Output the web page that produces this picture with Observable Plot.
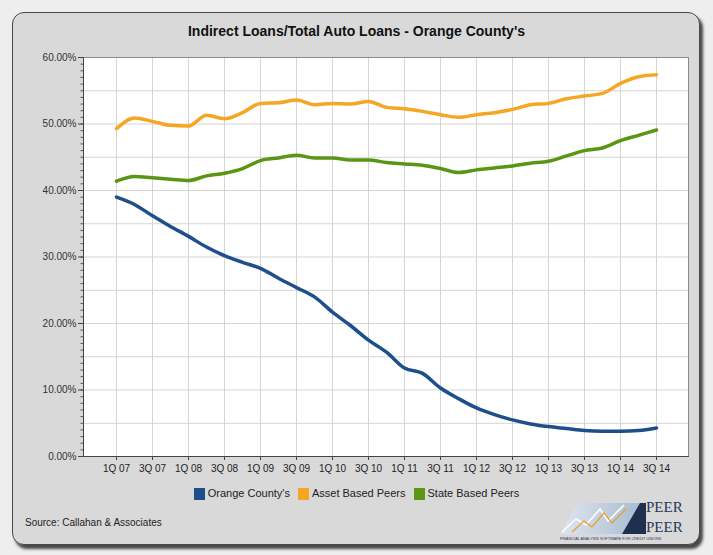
<!DOCTYPE html>
<html><head><meta charset="utf-8">
<script src="https://cdn.jsdelivr.net/npm/d3@7"></script>
<script src="https://cdn.jsdelivr.net/npm/@observablehq/plot@0.6"></script>
<style>
html,body{margin:0;padding:0;background:#eeeeee;width:713px;height:555px;overflow:hidden;font-family:"Liberation Sans",Arial,sans-serif;}
#panel{position:absolute;left:12px;top:12px;width:686px;height:531px;background:#d9d9d9;border:1px solid #4a4a4a;border-radius:12px;box-shadow:3px 4px 3px rgba(0,0,0,0.7);}
#title{position:absolute;left:0;top:23px;width:713px;text-align:center;font-weight:bold;font-size:14px;color:#111;}
#chart{position:absolute;left:0;top:0;}
#legend{position:absolute;top:486px;left:0;width:713px;text-align:center;font-size:11px;color:#222;white-space:nowrap;}
#legend span.item{display:inline-block;margin:0 4px;vertical-align:middle;}
#legend span.sw{display:inline-block;width:11px;height:12px;vertical-align:-3px;margin-right:3px;}
#source{position:absolute;left:25px;top:517px;font-size:10px;color:#222;}
#logo{position:absolute;left:558px;top:497px;}
</style></head>
<body>
<div id="panel"></div>
<div id="title">Indirect Loans/Total Auto Loans - Orange County's</div>
<div id="chart"></div>
<div id="legend"></div>
<div id="source">Source: Callahan &amp; Associates</div>
<svg id="logo" width="134" height="46" viewBox="0 0 134 46">
  <defs><linearGradient id="lg" x1="0" x2="1" y1="0" y2="0"><stop offset="0" stop-color="#dfe6ef"/><stop offset="1" stop-color="#a9bcd3"/></linearGradient></defs>
  <polygon points="2,37 20,6 82,6 64,37" fill="url(#lg)"/>
  <polygon points="64,37 82,6 88,6 88,37" fill="#1f2f4f"/>
  <polyline points="4,35 18,22 28,28 42,12 50,24 66,8" fill="none" stroke="#ffffff" stroke-width="1.5"/>
  <polyline points="14,35 26,24 34,30 46,16 54,26 68,12" fill="none" stroke="#e8a020" stroke-width="1.2"/>
  <text x="88" y="15" font-family="Liberation Serif,serif" font-size="15" fill="#26385a">PEER</text>
  <text x="82" y="23" font-family="Liberation Serif,serif" font-size="4.5" fill="#26385a">to</text>
  <text x="88" y="35" font-family="Liberation Serif,serif" font-size="15" fill="#26385a">PEER</text>
  <text x="2" y="43" font-family="Liberation Sans,sans-serif" font-size="3.8" fill="#26385a">FINANCIAL ANALYSIS SOFTWARE FOR CREDIT UNIONS</text>
</svg>
<script>
const quarters = ["1Q 07","2Q 07","3Q 07","4Q 07","1Q 08","2Q 08","3Q 08","4Q 08",
  "1Q 09","2Q 09","3Q 09","4Q 09","1Q 10","2Q 10","3Q 10","4Q 10",
  "1Q 11","2Q 11","3Q 11","4Q 11","1Q 12","2Q 12","3Q 12","4Q 12",
  "1Q 13","2Q 13","3Q 13","4Q 13","1Q 14","2Q 14","3Q 14"];
const tickLabels = ["1Q 07","3Q 07","1Q 08","3Q 08","1Q 09","3Q 09","1Q 10","3Q 10",
  "1Q 11","3Q 11","1Q 12","3Q 12","1Q 13","3Q 13","1Q 14","3Q 14"];
const seriesNames = ["Orange County's","Asset Based Peers","State Based Peers"];
const seriesColors = ["#1f4e8c","#f5a623","#5a9614"];
const orangeCounty = [39.0,37.9,36.2,34.6,33.1,31.5,30.2,29.2,28.3,26.8,25.4,24.0,21.7,19.7,17.5,15.7,
  13.3,12.5,10.3,8.7,7.3,6.3,5.5,4.9,4.5,4.2,3.9,3.8,3.8,3.9,4.3];
const assetPeers = [49.3,50.9,50.4,49.8,49.7,51.3,50.8,51.7,53.1,53.2,53.6,52.9,53.1,53.0,53.4,52.5,
  52.3,51.9,51.4,51.0,51.4,51.7,52.2,52.9,53.1,53.8,54.2,54.6,56.1,57.1,57.4];
const statePeers = [41.4,42.1,41.9,41.7,41.5,42.2,42.6,43.3,44.5,44.9,45.3,44.9,44.9,44.6,44.6,44.2,
  44.0,43.8,43.3,42.7,43.1,43.4,43.7,44.1,44.4,45.2,46.0,46.4,47.5,48.3,49.1];
const yTickValues = [0,10,20,30,40,50,60];

const seriesValues = [orangeCounty, assetPeers, statePeers];
const table = seriesNames.flatMap((s, k) => quarters.map((q, i) => ({series: s, quarter: q, value: seriesValues[k][i]})));

const chart = Plot.plot({
  width: 713, height: 480,
  marginLeft: 83, marginRight: 25, marginTop: 57, marginBottom: 24,
  style: {background: "transparent", fontFamily: "Liberation Sans, Arial, sans-serif", fontSize: "10px", color: "#333"},
  x: {type: "point", domain: quarters, padding: 1.71, label: null},
  y: {domain: [0, 60], label: null},
  color: {domain: seriesNames, range: seriesColors},
  marks: [
    Plot.frame({fill: "white", stroke: "none"}),
    Plot.gridY(d3.range(0, 61, 5), {stroke: "#d4d4d4", strokeOpacity: 1}),
    Plot.gridX(tickLabels, {stroke: "#d4d4d4", strokeOpacity: 1}),
    Plot.line(table, {x: "quarter", y: "value", z: "series", stroke: "series", strokeWidth: 3.5, curve: "monotone-x"}),
    Plot.frame({stroke: "#8a8a8a"}),
    Plot.frame({anchor: "left", stroke: "#444"}),
    Plot.frame({anchor: "bottom", stroke: "#444"}),
    Plot.axisY(d3.range(0, 61, 1), {tickSize: 2.5, tickFormat: () => "", stroke: "#555", label: null}),
    Plot.axisY(yTickValues, {tickSize: 5, tickPadding: 2, tickFormat: d => d.toFixed(2) + "%", stroke: "#444", fill: "#333", label: null}),
    Plot.axisX(tickLabels, {tickSize: 4, tickPadding: 4, stroke: "#444", fill: "#222", label: null})
  ]
});
document.getElementById("chart").appendChild(chart);

const legend = document.getElementById("legend");
seriesNames.forEach((s, k) => {
  const it = document.createElement("span");
  it.className = "item";
  it.innerHTML = `<span class="sw" style="background:${seriesColors[k]}"></span>${s}`;
  legend.appendChild(it);
});
</script>
</body></html>
